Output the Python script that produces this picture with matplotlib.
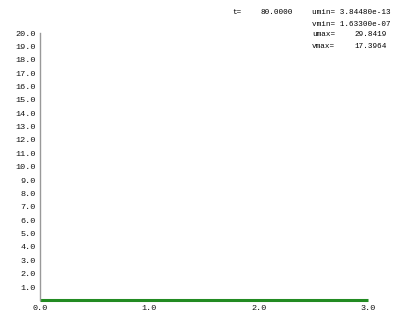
import matplotlib
matplotlib.use("Agg")
from matplotlib import pyplot as plt

# Data
x = [0.0, 3.0]
u = [0.0, 0.0]
xticks = [0.0, 1.0, 2.0, 3.0]
yticks = [1.0, 2.0, 3.0, 4.0, 5.0, 6.0, 7.0, 8.0, 9.0, 10.0,
          11.0, 12.0, 13.0, 14.0, 15.0, 16.0, 17.0, 18.0, 19.0, 20.0]
t_value = 80.0
umin, vmin, umax, vmax = 3.84480e-13, 1.63300e-07, 29.8419, 17.3964

plt.rcParams['font.family'] = ['Liberation Mono', 'DejaVu Sans Mono']
fs = 5.5

fig = plt.figure(figsize=(3.96, 3.2), dpi=100)
ax = fig.add_axes([40 / 396, 19.6 / 320, 328 / 396, 267.4 / 320])

ax.plot(x, u, color='#228b22', linewidth=2.2, solid_capstyle='butt', clip_on=False)

ax.set_xlim(0, 3)
ax.set_ylim(0, 20)
ax.set_xticks(xticks)
ax.set_xticklabels([f"{v:.1f}" for v in xticks])
ax.set_yticks(yticks)
ax.set_yticklabels([f"{v:.1f}" for v in yticks])
ax.tick_params(length=0, labelsize=fs + 0.6, colors='#111111', pad=3)
for s in ['top', 'right', 'bottom']:
    ax.spines[s].set_visible(False)
ax.spines['left'].set_color('#999999')
ax.spines['left'].set_linewidth(1.0)

txt = dict(fontsize=fs, color='#000000', va='center')
fig.text(232 / 396, 1 - 13 / 320, "t=", ha='left', **txt)
fig.text(293 / 396, 1 - 13 / 320, f"{t_value:.4f}", ha='right', **txt)
fig.text(312 / 396, 1 - 13 / 320, f"umin= {umin:.5e}", ha='left', **txt)
fig.text(312 / 396, 1 - 24 / 320, f"vmin= {vmin:.5e}", ha='left', **txt)
fig.text(312 / 396, 1 - 35 / 320, "umax=", ha='left', **txt)
fig.text(387 / 396, 1 - 35 / 320, f"{umax:.4f}", ha='right', **txt)
fig.text(312 / 396, 1 - 46 / 320, "vmax=", ha='left', **txt)
fig.text(387 / 396, 1 - 46 / 320, f"{vmax:.4f}", ha='right', **txt)

fig.savefig("out.png", dpi=100)
